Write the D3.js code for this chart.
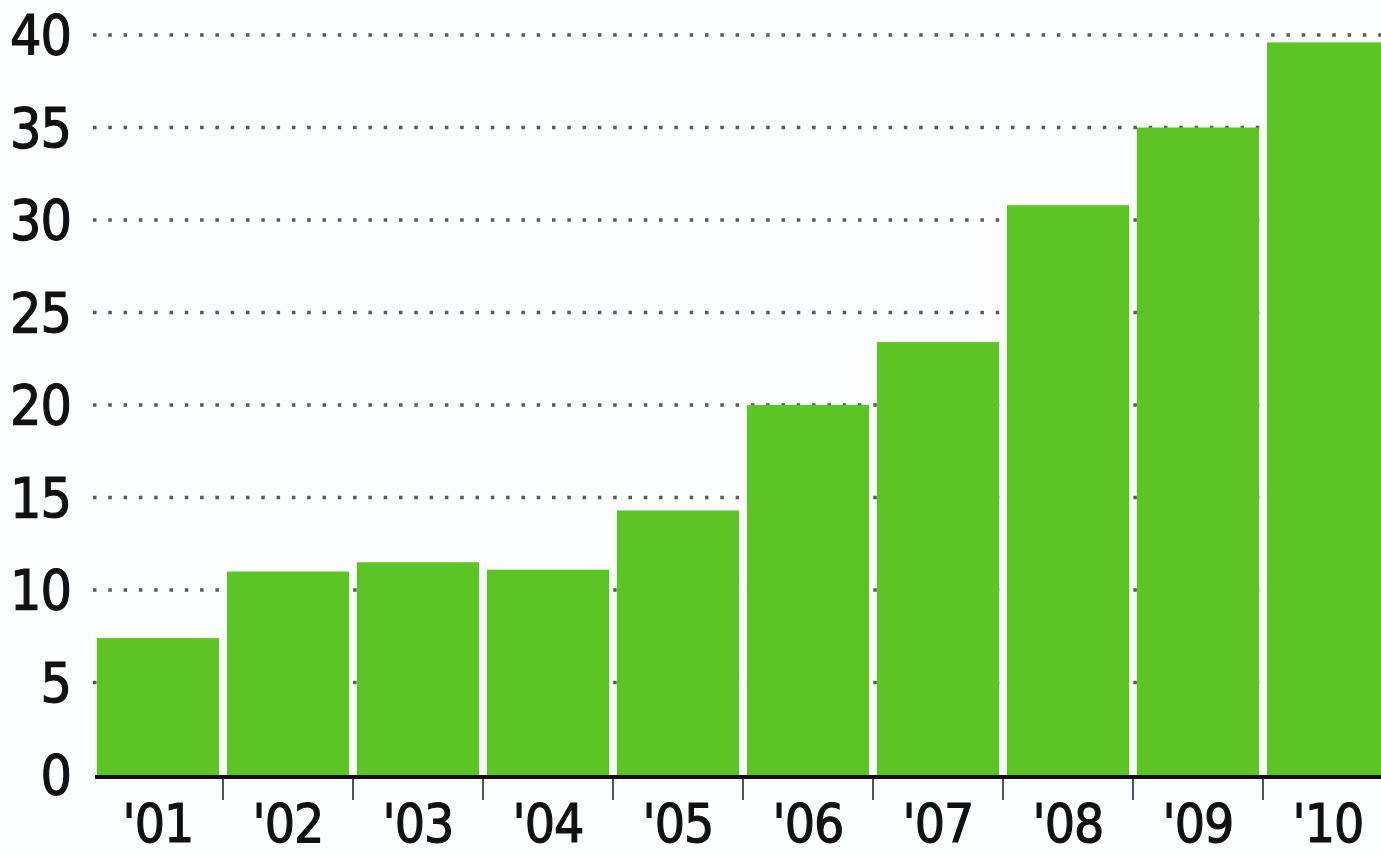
<!DOCTYPE html>
<html><head><meta charset="utf-8">
<script src="https://cdn.jsdelivr.net/npm/d3@7"></script>
<style>body{margin:0;background:#fcfdff;}svg{display:block;}text{font-family:"DejaVu Sans Condensed","DejaVu Sans",sans-serif;font-stretch:condensed;fill:#111;stroke:#111;stroke-width:1.1px;}</style>
</head><body>
<svg id="c" width="1381" height="855"></svg>
<script>
const categories = ["'01","'02","'03","'04","'05","'06","'07","'08","'09","'10"];
const values = [7.4, 11.0, 11.5, 11.1, 14.3, 20.0, 23.4, 30.8, 35.0, 39.6];
const yTicks = [0,5,10,15,20,25,30,35,40];

const svg = d3.select("#c");
const x = d3.scaleBand().domain(categories).range([93,1393]).paddingInner(0.06).paddingOuter(0.03);
const y = d3.scaleLinear().domain([0,40]).range([775,35]);

// gridlines
svg.append("g").selectAll("line").data(yTicks.filter(d=>d>0)).join("line")
  .attr("x1",93).attr("x2",1381).attr("y1",d=>y(d)).attr("y2",d=>y(d))
  .attr("stroke","#5a5a5a").attr("stroke-width",3.5).attr("stroke-dasharray","3.5 11.8");

// bars
svg.append("g").selectAll("rect").data(values).join("rect")
  .attr("x",(d,i)=>x(categories[i])).attr("width",x.bandwidth())
  .attr("y",d=>y(d)).attr("height",d=>y(0)-y(d)).attr("fill","#5cc424");

// y labels
svg.append("g").selectAll("text").data(yTicks).join("text")
  .attr("x",71).attr("y",d=>y(d)+19).attr("text-anchor","end")
  .attr("font-size",55).attr("letter-spacing",-1).text(d=>d);

// axis line
svg.append("line").attr("x1",95).attr("x2",1381).attr("y1",777).attr("y2",777)
  .attr("stroke","#111").attr("stroke-width",4);

// ticks between bars
const gap = x.step()*x.paddingInner();
svg.append("g").selectAll("line").data(categories.slice(1)).join("line")
  .attr("x1",d=>x(d)-gap/2).attr("x2",d=>x(d)-gap/2).attr("y1",779).attr("y2",800)
  .attr("stroke","#555").attr("stroke-width",2);

// x labels
svg.append("g").selectAll("text").data(categories).join("text")
  .attr("x",d=>x(d)+x.bandwidth()/2).attr("y",842).attr("text-anchor","middle")
  .attr("font-size",53).attr("letter-spacing",-1).text(d=>d);
</script>
</body></html>
